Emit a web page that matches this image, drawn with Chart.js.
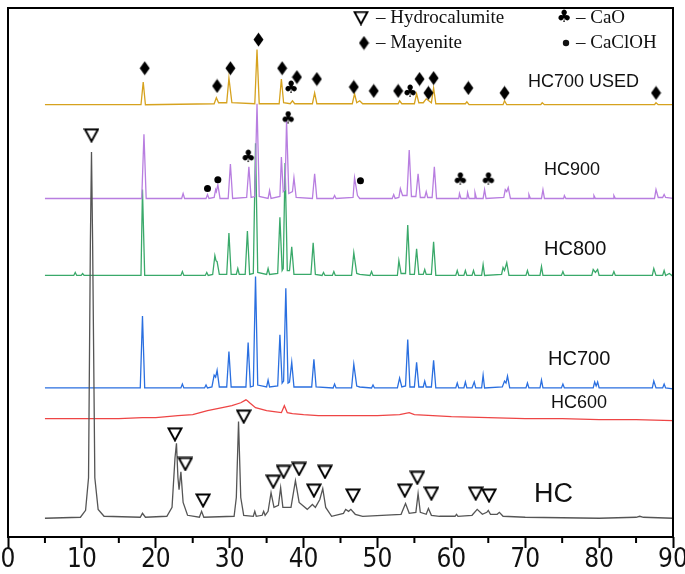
<!DOCTYPE html>
<html>
<head>
<meta charset="utf-8">
<title>XRD patterns</title>
<script src="https://cdn.jsdelivr.net/npm/chart.js@4.4.1/dist/chart.umd.min.js"></script>
<style>
  html, body { margin: 0; padding: 0; background: #fff; }
  canvas { display: block; }
</style>
</head>
<body>
<canvas id="xrd" width="685" height="574"></canvas>
<script>
// 2-theta axis
var xTicks = [0, 10, 20, 30, 40, 50, 60, 70, 80, 90];
var xMinorTicks = [5, 15, 25, 35, 45, 55, 65, 75, 85];

// patterns: [2theta, intensity (a.u., curves stacked)]
var hc700used = [[5,438],[18.0,438],[18.3,461],[18.6,438],[27.9,439],[28.2,445],[28.5,440],[29.6,440],[29.9,465],[30.3,440],
  [33.4,439],[33.7,494],[34.0,439],[36.7,439],[37.0,464],[37.3,440],[38.2,439],[38.5,442],[38.8,439],[41.2,439],[41.5,450],[41.8,439],
  [46.6,439],[46.9,449],[47.2,440],[47.6,442],[48.0,439],[52.8,439],[53.0,442],[53.3,439],[55.0,439],[55.3,449],[55.6,440],[56.2,440],
  [56.6,444],[57.3,440],[57.6,455],[57.9,439],[61.9,439],[62.1,441],[62.4,438],[67.0,438],[67.2,442],[67.5,438],[72.1,438],[72.3,440],
  [72.6,438],[87.5,438],[87.7,440],[88.0,438],[90,438]];

var hc900 = [[5,343],[18.1,343],[18.4,408],[18.7,343],[23.5,343],[23.7,348],[23.9,343],[26.8,343],[27.0,347],[27.2,343],[27.9,344],
  [28.1,352],[28.2,350],[28.4,357],[28.7,343],[29.8,343],[30.1,378],[30.4,343],[32.3,344],[32.6,375],[32.9,344],[33.4,345],[33.7,439],
  [34.0,345],[35.2,343],[35.4,351],[35.6,343],[36.8,345],[37.0,385],[37.25,350],[37.5,352],[37.7,422],[38.0,348],[38.5,350],[38.7,364],
  [39.0,344],[41.2,343],[41.5,368],[41.8,343],[44.0,343],[44.2,346],[44.4,343],[46.7,344],[46.9,364],[47.3,346],[47.6,343],[52.0,343],
  [52.2,347],[52.4,343],[52.9,344],[53.1,353],[53.4,346],[54.0,346],[54.3,392],[54.6,345],[55.2,345],[55.5,368],[55.8,344],[56.4,344],
  [56.6,350],[56.8,344],[57.4,344],[57.7,375],[58.0,343],[61.0,343],[61.1,348],[61.3,343],[62.1,343],[62.2,349],[62.4,343],[63.1,343],
  [63.2,349],[63.4,343],[64.3,343],[64.5,352],[64.7,343],[67.1,344],[67.3,352],[67.5,350],[67.7,354],[68.0,343],[70.4,343],[70.5,347],
  [70.7,343],[72.2,343],[72.4,352],[72.6,343],[75.2,343],[75.3,346],[75.5,343],[79.2,343],[79.3,346],[79.5,343],[81.9,343],[82.0,346],
  [82.2,343],[87.5,343],[87.7,352],[88.0,344],[88.6,344],[88.8,347],[89.0,344],[90,343]];

var hc800 = [[5,265],[8.9,265],[9.1,268],[9.3,265],[9.9,265],[10.1,267],[10.3,265],[18.0,265],[18.2,352],[18.5,265],[23.4,265],
  [23.6,269],[23.8,265],[26.7,265],[26.9,268],[27.1,265],[27.7,266],[28.0,285],[28.15,280],[28.3,279],[28.6,266],[29.6,266],[29.9,308],
  [30.2,266],[30.9,266],[31.1,272],[31.3,266],[32.1,266],[32.4,310],[32.7,266],[33.2,267],[33.5,399],[33.8,268],[35.0,266],[35.2,272],
  [35.4,266],[36.5,267],[36.8,324],[37.1,270],[37.25,272],[37.5,379],[37.8,270],[38.1,270],[38.4,294],[38.7,266],[41.0,266],[41.3,298],
  [41.6,266],[42.5,265],[42.7,268],[42.9,265],[43.9,265],[44.1,269],[44.3,265],[46.5,265],[46.8,288],[47.2,267],[47.6,266],[49.0,265],
  [49.2,269],[49.4,265],[52.7,265],[52.9,280],[53.2,267],[53.8,267],[54.1,316],[54.4,266],[55.0,266],[55.3,292],[55.6,266],[56.2,266],
  [56.4,271],[56.6,266],[57.3,266],[57.6,299],[57.9,265],[60.6,265],[60.8,270],[61.0,265],[61.7,265],[61.9,270],[62.1,265],[62.8,265],
  [63.0,270],[63.2,265],[64.1,265],[64.3,276],[64.5,265],[66.8,266],[67.0,273],[67.2,270],[67.5,278],[67.8,265],[70.1,265],[70.3,270],
  [70.5,265],[72.0,265],[72.2,274],[72.4,265],[74.9,265],[75.1,269],[75.3,265],[79.0,265],[79.2,271],[79.5,268],[79.8,271],[80.0,265],
  [81.8,265],[82.0,269],[82.2,265],[87.2,265],[87.4,272],[87.7,265],[88.6,265],[88.8,270],[89.0,265],[89.5,267],[90,264]];

var hc700 = [[5,151],[17.9,151],[18.2,224],[18.5,151],[23.4,151],[23.6,155],[23.8,151],[26.6,151],[26.8,154],[27.0,151],[27.6,152],
  [27.9,164],[28.1,162],[28.3,169],[28.6,152],[29.6,152],[29.9,188],[30.2,152],[32.2,152],[32.5,197],[32.8,152],[33.2,153],[33.5,264],
  [33.8,154],[35.0,152],[35.2,159],[35.4,152],[36.5,153],[36.8,205],[37.1,156],[37.3,158],[37.6,252],[37.9,156],[38.1,157],[38.4,177],
  [38.7,152],[41.1,152],[41.4,180],[41.7,152],[44.0,151],[44.2,155],[44.4,151],[46.5,151],[46.8,175],[47.2,153],[47.6,152],[49.2,151],
  [49.4,154],[49.6,151],[52.7,151],[53.0,161],[53.3,152],[53.8,153],[54.1,200],[54.4,152],[55.0,152],[55.3,177],[55.6,152],[56.2,152],
  [56.4,158],[56.6,152],[57.3,152],[57.6,179],[57.9,151],[60.6,151],[60.8,156],[61.0,151],[61.7,151],[61.9,157],[62.1,151],[62.8,151],
  [63.1,157],[63.3,151],[64.1,151],[64.3,164],[64.5,151],[66.9,152],[67.2,158],[67.4,156],[67.6,163],[67.9,151],[70.1,151],[70.3,156],
  [70.5,151],[72.0,151],[72.2,159],[72.4,151],[74.9,151],[75.1,155],[75.3,151],[79.2,151],[79.4,157],[79.6,153],[79.8,157],[80.0,151],
  [87.2,151],[87.4,158],[87.7,151],[88.6,151],[88.8,155],[89.0,151],[90,150]];

var hc600 = [[5,120],[10,120],[15,120],[18.2,121],[20,121],[23,123],[25,124],[27,128],[29,131],[30.3,133],[31.5,136],[32.2,139],
  [32.4,138],[32.7,136],[33.5,131],[35,128],[36,127],[37.0,126],[37.4,133],[37.8,126],[38.5,125],[40,124],[42,123],[45,123],[50,123],
  [53,124],[54.3,126],[55,124],[60,122],[65,121],[70,120],[75,120],[80,119],[85,119],[90,118]];

var hc = [[5,19],[9.8,20],[10.5,27],[10.9,60],[11.15,300],[11.3,390],[11.45,300],[11.75,60],[12.2,28],[13.0,21],[17.9,20],[18.2,24],
  [18.6,20],[21.5,21],[22.2,30],[22.6,80],[22.8,95],[23.0,60],[23.15,48],[23.4,66],[23.7,35],[24.3,22],[25.9,20],[26.2,26],[26.5,20],
  [30.6,21],[30.9,40],[31.2,117],[31.5,40],[31.9,22],[33.2,21],[33.4,26],[33.6,21],[34.4,22],[34.6,26],[34.8,22],[35.2,26],[35.6,45],
  [36.0,30],[36.6,32],[36.9,50],[37.2,30],[38.3,30],[38.9,57],[39.4,35],[40.5,28],[41.2,33],[41.6,30],[42.2,38],[42.6,49],[43.0,30],
  [43.8,21],[45.4,24],[45.7,28],[46.1,26],[46.4,28],[47.0,23],[48,21],[53.2,23],[53.8,34],[54.3,24],[55.2,25],[55.5,44],[55.8,25],
  [56.6,23],[56.9,29],[57.3,22],[58.4,21],[60.5,21],[60.7,23],[60.9,21],[62.8,22],[63.5,28],[64.2,23],[64.8,25],[65.0,27],[65.3,23],
  [66.2,23],[66.5,25],[67,21],[70,20],[80,19],[85,20],[85.5,21],[86,20],[90,19]];

var seriesNames = ['HC700 USED', 'HC900', 'HC800', 'HC700', 'HC600', 'HC'];
var seriesColors = ['#d6a21e', '#b87ee0', '#3aa96a', '#2a6fe0', '#ee4545', '#555555'];

// phase markers [2theta, intensity]
var hydrocalumiteMarks = [[11.3,407],[22.6,104],[24.0,74],[26.4,37],[31.9,122],[35.9,56],[37.3,66],[39.4,69],[41.4,47],[42.9,66],
  [46.7,42],[53.7,47],[55.4,60],[57.3,44],[63.3,44],[65.1,42]];
var mayeniteMarks = [[18.5,475],[28.3,457],[30.1,475],[33.9,504],[37.1,475],[39.1,466],[41.8,464],[46.8,456],[49.5,452],[52.8,452],
  [55.7,464],[56.9,450],[57.6,465],[62.3,455],[67.2,450],[87.7,450]];
var caoMarks = [[38.3,454],[54.4,450],[32.5,384],[37.9,423],[61.2,361],[65.0,361]];
var caclohMarks = [[27.0,353],[28.4,362],[47.7,361]];

var legendNames = ['Hydrocalumite', 'Mayenite', 'CaO', 'CaClOH'];

function makeGlyph(w, h, draw) {
    var c = document.createElement('canvas');
    c.width = w;
    c.height = h;
    draw(c.getContext('2d'), w, h);
    return c;
}

var triangleGlyph = makeGlyph(16, 15, function (ctx) {
    ctx.beginPath();
    ctx.moveTo(1.5, 1.5);
    ctx.lineTo(14.5, 1.5);
    ctx.lineTo(8, 13.5);
    ctx.closePath();
    ctx.fillStyle = '#fff';
    ctx.fill();
    ctx.lineWidth = 1.9;
    ctx.strokeStyle = '#000';
    ctx.stroke();
});
var diamondGlyph = makeGlyph(11, 15, function (ctx) {
    ctx.beginPath();
    ctx.moveTo(5.5, 0.5);
    ctx.lineTo(10.5, 7.5);
    ctx.lineTo(5.5, 14.5);
    ctx.lineTo(0.5, 7.5);
    ctx.closePath();
    ctx.fillStyle = '#000';
    ctx.fill();
});
var clubGlyph = makeGlyph(18, 18, function (ctx) {
    ctx.fillStyle = '#000';
    ctx.font = '17px "DejaVu Sans"';
    ctx.textAlign = 'center';
    ctx.textBaseline = 'middle';
    ctx.fillText('\u2663', 9, 9);
});

function lineSet(name, pts, color, order) {
    return {
        label: name,
        data: pts,
        borderColor: color,
        borderWidth: 1.3,
        pointRadius: 0,
        fill: false,
        tension: 0,
        order: order
    };
}

function markSet(name, pts, style, radius) {
    return {
        label: name,
        data: pts,
        showLine: false,
        pointStyle: style,
        pointRadius: radius,
        pointBackgroundColor: '#000',
        pointBorderColor: '#000',
        pointBorderWidth: 0,
        order: 0
    };
}

var allSeries = [hc700used, hc900, hc800, hc700, hc600, hc];
var datasets = [];
for (var i = 0; i < allSeries.length; i++) {
    datasets.push(lineSet(seriesNames[i], allSeries[i], seriesColors[i], i === 5 ? 1 : 2));
}
datasets.push(markSet(legendNames[0], hydrocalumiteMarks, triangleGlyph, 7));
datasets.push(markSet(legendNames[1], mayeniteMarks, diamondGlyph, 7));
datasets.push(markSet(legendNames[2], caoMarks, clubGlyph, 8));
datasets.push(markSet(legendNames[3], caclohMarks, 'circle', 3.5));

// where the curve names and the phase key sit on the page
var nameSpots = [
    {x: 528, y: 82, size: 18},
    {x: 544, y: 170, size: 18},
    {x: 544, y: 249, size: 20},
    {x: 548, y: 359, size: 20},
    {x: 551, y: 403, size: 18},
    {x: 534, y: 495, size: 27}
];
var keySpots = [
    {gx: 361, x: 376, y: 18, glyph: triangleGlyph},
    {gx: 364, x: 376, y: 43, glyph: diamondGlyph},
    {gx: 564, x: 576, y: 18, glyph: clubGlyph},
    {gx: 566, x: 576, y: 43, glyph: 'dot'}
];

var framePlugin = {
    id: 'frame',
    afterDraw: function (chart) {
        var ctx = chart.ctx;
        var a = chart.chartArea;
        var xs = chart.scales.x;
        ctx.save();
        ctx.strokeStyle = '#000';
        ctx.lineWidth = 2;
        ctx.strokeRect(a.left, a.top, a.right - a.left, a.bottom - a.top);
        // minor ticks
        for (var i = 0; i < xMinorTicks.length; i++) {
            var px = xs.getPixelForValue(xMinorTicks[i]);
            ctx.beginPath();
            ctx.moveTo(px, a.bottom);
            ctx.lineTo(px, a.bottom + 6);
            ctx.stroke();
        }
        // curve names
        ctx.fillStyle = '#111';
        ctx.textBaseline = 'middle';
        ctx.textAlign = 'left';
        for (var j = 0; j < nameSpots.length; j++) {
            ctx.font = nameSpots[j].size + 'px "Liberation Sans", Arial, sans-serif';
            ctx.fillText(seriesNames[j], nameSpots[j].x, nameSpots[j].y);
        }
        // phase key
        ctx.font = '19px "Liberation Serif", "Times New Roman", serif';
        for (var k = 0; k < keySpots.length; k++) {
            var s = keySpots[k];
            if (s.glyph === 'dot') {
                ctx.beginPath();
                ctx.arc(s.gx, s.y, 3.2, 0, Math.PI * 2);
                ctx.fill();
            } else {
                ctx.drawImage(s.glyph, s.gx - s.glyph.width / 2, s.y - s.glyph.height / 2);
            }
            ctx.fillText('\u2013 ' + legendNames[k], s.x, s.y);
        }
        ctx.restore();
    }
};

var chart = new Chart(document.getElementById('xrd'), {
    type: 'line',
    data: {datasets: datasets},
    options: {
        responsive: false,
        animation: false,
        layout: {padding: {left: 5, right: 12, top: 1, bottom: 0}},
        plugins: {
            legend: {display: false},
            tooltip: {enabled: false}
        },
        scales: {
            x: {
                type: 'linear',
                min: 0,
                max: 90,
                afterBuildTicks: function (scale) {
                    scale.ticks = xTicks.map(function (v) { return {value: v}; });
                },
                afterFit: function (scale) {
                    scale.paddingLeft = 0;
                    scale.paddingRight = 0;
                    scale.height = 37;
                },
                border: {display: false},
                grid: {
                    drawOnChartArea: false,
                    drawTicks: true,
                    tickLength: 11,
                    tickWidth: 2,
                    tickColor: '#000'
                },
                ticks: {
                    padding: -3,
                    maxRotation: 0,
                    autoSkip: false,
                    color: '#111',
                    font: {family: '"Liberation Sans Narrow", "DejaVu Sans Condensed", "Liberation Sans", sans-serif', size: 26}
                }
            },
            y: {
                display: false,
                min: 0,
                max: 536
            }
        }
    },
    plugins: [framePlugin]
});
</script>
</body>
</html>
